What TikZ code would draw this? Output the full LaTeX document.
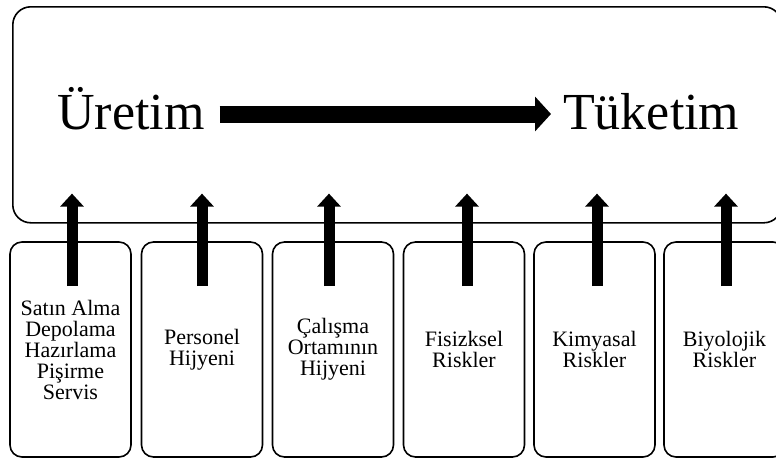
\documentclass[tikz,border=0pt]{standalone}
\usepackage{fontspec}
\setmainfont{Liberation Serif}
\usetikzlibrary{arrows.meta,calc}
\begin{document}
\begin{tikzpicture}[x=1pt,y=-1pt,
  frame/.style={draw=black,line width=1.6pt,rounded corners=12pt},
  item/.style={frame,minimum width=121pt,minimum height=215pt,inner sep=0pt,
    align=center,font=\fontsize{22}{21}\selectfont},
  bigword/.style={inner sep=0pt,font=\fontsize{52}{52}\selectfont},
  flow/.style={line width=17pt,-{Triangle[width=34pt,length=16pt]}},
  lift/.style={line width=11pt,-{Triangle[width=23pt,length=13pt]}}]
\useasboundingbox (0,0) rectangle (776,461);

% upper panel: production to consumption
\node[frame,rounded corners=18pt,minimum width=769pt,minimum height=216pt,
  anchor=north west] (stage) at (12,6) {};
\node[bigword,anchor=base west] (uret) at (57,129) {Üretim};
\node[bigword,anchor=base west] (tuket) at (563,129) {Tüketim};
\draw[flow] ($(uret.base east)+(15,-15)$) -- ($(tuket.base west)+(-12,-15)$);

% lower boxes: contributing factors
\node[item] (b1) at (70.5,349.5) {Satın Alma\\Depolama\\Hazırlama\\Pişirme\\Servis};
\node[item] (b2) at (202,349.5) {Personel\\Hijyeni};
\node[item] (b3) at (333,349.5) {Çalışma\\Ortamının\\Hijyeni};
\node[item] (b4) at (464,349.5) {Fisizksel\\Riskler};
\node[item] (b5) at (594.5,349.5) {Kimyasal\\Riskler};
\node[item] (b6) at (724.5,349.5) {Biyolojik\\Riskler};

% arrows from each box up into the panel
\foreach \b/\dx in {b1/1.5,b2/0,b3/-4,b4/3,b5/2.5,b6/1.5}
  \draw[lift] ($(\b.north)+(\dx,45)$) -- ($(\b.north |- stage.south)+(\dx,-30)$);
\end{tikzpicture}
\end{document}
